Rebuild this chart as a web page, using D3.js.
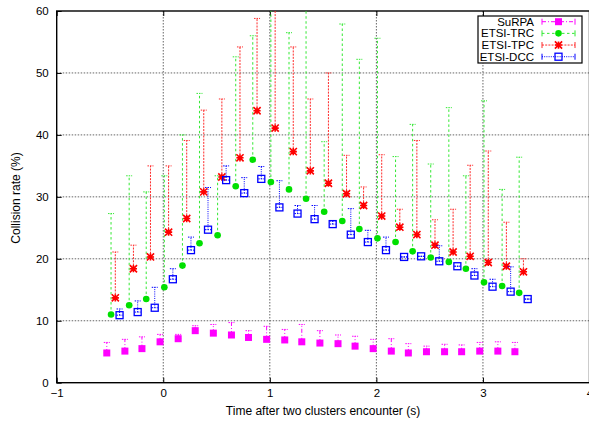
<!DOCTYPE html>
<html>
<head>
<meta charset="utf-8">
<script src="https://cdn.jsdelivr.net/npm/d3@7/dist/d3.min.js"></script>
<style>
  html, body { margin: 0; padding: 0; background: #fff; }
  svg { display: block; }
  text { font-family: "Liberation Sans", Arial, Helvetica, sans-serif; }
</style>
</head>
<body>
<svg id="chart" width="589" height="424"></svg>
<script>
// Sample times (s) after the two clusters meet
const times = [-0.53, -0.36, -0.20, -0.03, 0.14, 0.30, 0.47, 0.64, 0.80, 0.97, 1.14, 1.30,
               1.47, 1.64, 1.80, 1.97, 2.14, 2.30, 2.47, 2.64, 2.80, 2.97, 3.14, 3.30];

// Collision rate (%) : mean and upper bound of each scheme
const surpaMean = [4.8, 5.1, 5.5, 6.6, 7.1, 8.4, 8.0, 7.7, 7.3, 7.0, 6.9, 6.6,
                   6.4, 6.3, 5.9, 5.5, 5.1, 4.8, 5.0, 5.0, 5.0, 5.1, 5.1, 5.0];
const surpaHigh = [6.5, 7.0, 7.4, 7.8, 7.8, 9.2, 9.4, 9.7, 8.4, 9.1, 8.6, 9.4,
                   8.4, 7.7, 7.5, 7.0, 7.1, 6.3, 5.9, 6.2, 6.1, 6.5, 6.6, 6.5];

const trcMean = [11.0, 12.5, 13.5, 15.4, 18.9, 22.5, 23.8, 31.7, 36.0, 32.4, 31.2, 29.7,
                 27.6, 26.1, 24.8, 23.3, 22.7, 21.2, 20.2, 19.5, 18.4, 16.2, 15.6, 14.5];
const trcHigh = [27.3, 33.4, 30.8, 33.4, 40.0, 46.7, 33.4, 52.6, 56.0, 62.0, 56.5, 61.0,
                 38.9, 57.9, 52.2, 55.6, 36.5, 41.7, 35.3, 44.4, 33.4, 45.5, 31.2, 36.4];

const tpcMean = [13.7, 18.4, 20.3, 24.3, 26.5, 30.8, 33.2, 36.3, 43.9, 41.1, 37.3, 34.2,
                 32.2, 30.5, 28.6, 26.9, 25.1, 23.9, 22.2, 21.1, 20.4, 19.4, 18.8, 17.9];
const tpcHigh = [21.1, 22.2, 35.0, 35.0, 39.1, 44.0, 45.8, 54.2, 58.8, 62.0, 54.2, 45.8,
                 50.0, 36.7, 31.6, 36.8, 28.0, 39.1, 26.3, 28.0, 35.1, 37.4, 25.9, 20.0];

const dccMean = [10.9, 11.4, 12.1, 16.7, 21.4, 24.7, 32.7, 30.6, 32.9, 28.3, 27.3, 26.4,
                 25.6, 23.9, 22.7, 21.4, 20.3, 20.4, 19.6, 18.8, 17.3, 15.5, 14.7, 13.5];
const dccHigh = [11.9, 13.2, 15.4, 18.4, 23.5, 31.5, 35.0, 33.1, 34.9, 32.6, 28.6, 28.6,
                 26.1, 28.1, 24.6, 23.5, 20.3, 20.4, 22.1, 18.8, 18.4, 16.7, 18.7, 13.5];

const seriesNames = ["SuRPA", "ETSI-TRC", "ETSI-TPC", "ETSI-DCC"];
const seriesShift = [0, 0.04, 0.08, 0.12];   // small horizontal shift so bars do not overlap

const xTicks = [-1, 0, 1, 2, 3, 4];
const yTicks = [0, 10, 20, 30, 40, 50, 60];
const xTitle = "Time after two clusters encounter (s)";
const yTitle = "Collision rate (%)";

// ---- layout ----
const svg = d3.select("#chart");
const pLeft = 56.7, pRight = 589.5, pTop = 11, pBottom = 382.7;

const x = d3.scaleLinear().domain([-1, 4]).range([pLeft, pRight]);
const y = d3.scaleLinear().domain([0, 60]).range([pBottom, pTop]);

svg.append("defs").append("clipPath").attr("id", "plotClip")
  .append("rect").attr("x", pLeft).attr("y", pTop)
  .attr("width", pRight - pLeft).attr("height", pBottom - pTop);

// grid
const grid = svg.append("g");
grid.selectAll("line.gx").data(xTicks.slice(1, -1)).join("line")
  .attr("x1", d => x(d)).attr("x2", d => x(d))
  .attr("y1", pTop).attr("y2", pBottom)
  .attr("stroke", "#666").attr("stroke-width", 1).attr("stroke-dasharray", "1.5,1.5");
grid.selectAll("line.gy").data(yTicks.slice(1, -1)).join("line")
  .attr("x1", pLeft).attr("x2", pRight)
  .attr("y1", d => y(d)).attr("y2", d => y(d))
  .attr("stroke", "#666").attr("stroke-width", 1).attr("stroke-dasharray", "1.5,1.5");

// axes (ticks point inward, mirrored on top)
const fontSize = 11.5;
const titleSize = 12;
const axB = svg.append("g").attr("transform", `translate(0,${pBottom})`)
  .call(d3.axisBottom(x).tickValues(xTicks).tickSizeInner(-5).tickSizeOuter(0).tickPadding(6)
        .tickFormat(d3.format("d")));
const axL = svg.append("g").attr("transform", `translate(${pLeft},0)`)
  .call(d3.axisLeft(y).tickValues(yTicks).tickSizeInner(-5).tickSizeOuter(0).tickPadding(8)
        .tickFormat(d3.format("d")));
const axT = svg.append("g").attr("transform", `translate(0,${pTop})`)
  .call(d3.axisTop(x).tickValues(xTicks).tickSizeInner(-5).tickSizeOuter(0).tickFormat(""));
[axB, axL, axT].forEach(a => {
  a.select(".domain").remove();
  a.selectAll(".tick line").attr("stroke", "#000");
  a.selectAll("text").attr("font-size", fontSize).attr("fill", "#000")
    .attr("font-family", "'Liberation Sans', Arial, sans-serif");
});

// frame
svg.append("rect").attr("x", pLeft).attr("y", pTop)
  .attr("width", pRight - pLeft).attr("height", pBottom - pTop)
  .attr("fill", "none").attr("stroke", "#000").attr("stroke-width", 1.4);

// axis titles
svg.append("text").attr("x", 323).attr("y", 415).attr("text-anchor", "middle")
  .attr("font-size", titleSize).text(xTitle);
svg.append("text").attr("transform", "translate(20,198) rotate(-90)")
  .attr("text-anchor", "middle").attr("font-size", titleSize).text(yTitle);

// ---- series ----
const styles = [
  { color: "#ff00ff", dash: "4,2,1,2", marker: "box" },
  { color: "#00e000", bar: "#33e833", dash: "2.5,2.5", marker: "circle" },
  { color: "#ff0000", bar: "#ff2a2a", dash: "2,1.2", marker: "star" },
  { color: "#0000ff", dash: "1,1.2", marker: "openbox" }
];
const means = [surpaMean, trcMean, tpcMean, dccMean];
const highs = [surpaHigh, trcHigh, tpcHigh, dccHigh];
const cap = 3;

function drawMarker(g, kind, color, cx, cy) {
  if (kind === "box") {
    g.append("rect").attr("x", cx - 3.5).attr("y", cy - 3.5).attr("width", 7).attr("height", 7)
      .attr("fill", color);
  } else if (kind === "circle") {
    g.append("circle").attr("cx", cx).attr("cy", cy).attr("r", 3.3).attr("fill", color);
  } else if (kind === "star") {
    const s = 3.6;
    const p = `M${cx - s},${cy}L${cx + s},${cy}M${cx},${cy - s}L${cx},${cy + s}` +
              `M${cx - s},${cy - s}L${cx + s},${cy + s}M${cx - s},${cy + s}L${cx + s},${cy - s}`;
    g.append("path").attr("d", p).attr("stroke", color).attr("stroke-width", 1.6).attr("fill", "none");
  } else {
    g.append("rect").attr("x", cx - 3.5).attr("y", cy - 3.5).attr("width", 7).attr("height", 7)
      .attr("fill", "none").attr("stroke", color).attr("stroke-width", 1.3);
  }
}

function drawErrorBar(g, st, cx, y0, y1) {
  const c = st.bar || st.color;
  g.append("line").attr("x1", cx).attr("x2", cx).attr("y1", y0).attr("y2", y1)
    .attr("stroke", c).attr("stroke-width", 1).attr("stroke-dasharray", st.dash);
  [y0, y1].forEach(yy => {
    g.append("line").attr("x1", cx - cap).attr("x2", cx + cap).attr("y1", yy).attr("y2", yy)
      .attr("stroke", c).attr("stroke-width", 1).attr("stroke-dasharray", "1.5,1");
  });
}

const plot = svg.append("g").attr("clip-path", "url(#plotClip)");
means.forEach((m, si) => {
  const st = styles[si];
  const g = plot.append("g");
  m.forEach((v, i) => {
    const cx = x(times[i] + seriesShift[si]);
    drawErrorBar(g, st, cx, y(v), y(highs[si][i]));
  });
  m.forEach((v, i) => {
    const cx = x(times[i] + seriesShift[si]);
    drawMarker(g, st.marker, st.color, cx, y(v));
  });
});

// ---- legend ----
const lg = svg.append("g");
lg.append("rect").attr("x", 478).attr("y", 16).attr("width", 104).attr("height", 47)
  .attr("fill", "#fff").attr("stroke", "#000").attr("stroke-width", 1.2);
seriesNames.forEach((name, i) => {
  const yy = 21.7 + i * 11.67;
  const st = styles[i];
  const c = st.bar || st.color;
  lg.append("text").attr("x", 534).attr("y", yy).attr("dy", "0.35em")
    .attr("text-anchor", "end").attr("font-size", fontSize).text(name);
  const x0 = 542, x1 = 575;
  lg.append("line").attr("x1", x0).attr("x2", x1).attr("y1", yy).attr("y2", yy)
    .attr("stroke", c).attr("stroke-width", 1).attr("stroke-dasharray", st.dash);
  [x0, x1].forEach(xx => {
    lg.append("line").attr("x1", xx).attr("x2", xx).attr("y1", yy - cap).attr("y2", yy + cap)
      .attr("stroke", c).attr("stroke-width", 1);
  });
  drawMarker(lg, st.marker, st.color, (x0 + x1) / 2, yy);
});
</script>
</body>
</html>
